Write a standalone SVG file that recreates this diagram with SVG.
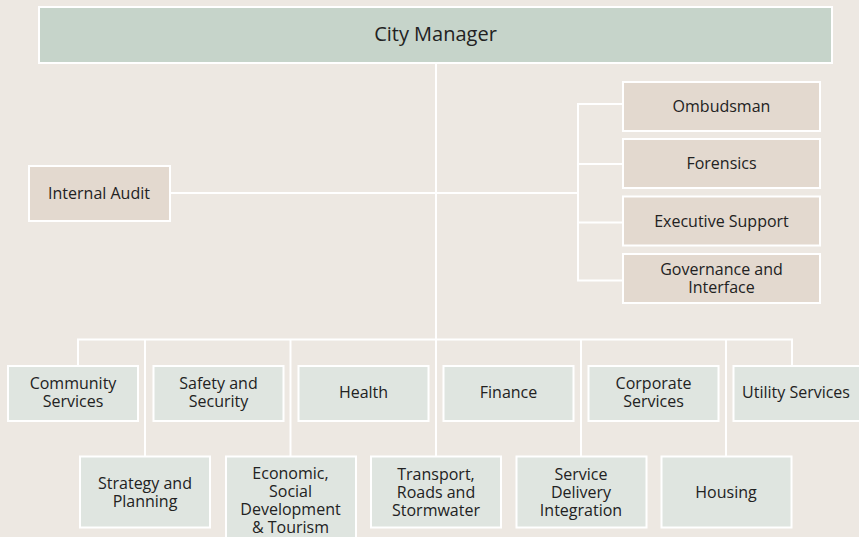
<svg xmlns="http://www.w3.org/2000/svg" width="859" height="537" viewBox="0 0 859 537">
<style>
.box{stroke:#ffffff;stroke-width:2}
.top{fill:#c6d4ca}
.tan{fill:#e3d9cf}
.grn{fill:#dfe5e0}
.ln{stroke:#ffffff;stroke-width:2;fill:none}
text{font-family:"Open Sans","Noto Sans","DejaVu Sans",sans-serif;font-size:16px;fill:#222222;text-anchor:middle}
.big{font-size:20px}
</style>
<rect x="0" y="0" width="859" height="537" fill="#ede8e2"/>
<g id="connectors">
<line class="ln" x1="436" y1="63" x2="436" y2="456"/>
<line class="ln" x1="170" y1="193" x2="578" y2="193"/>
<line class="ln" x1="578" y1="103" x2="578" y2="281"/>
<line class="ln" x1="577" y1="104" x2="622" y2="104"/>
<line class="ln" x1="578" y1="164" x2="622" y2="164"/>
<line class="ln" x1="578" y1="222.5" x2="622" y2="222.5"/>
<line class="ln" x1="577" y1="280.5" x2="622" y2="280.5"/>
<line class="ln" x1="77" y1="339.5" x2="793" y2="339.5"/>
<line class="ln" x1="78" y1="339.5" x2="78" y2="365"/>
<line class="ln" x1="792" y1="339.5" x2="792" y2="365"/>
<line class="ln" x1="145" y1="339.5" x2="145" y2="456"/>
<line class="ln" x1="290.5" y1="339.5" x2="290.5" y2="456"/>
<line class="ln" x1="581" y1="339.5" x2="581" y2="456"/>
<line class="ln" x1="726" y1="339.5" x2="726" y2="456"/>
</g>
<g id="city-manager"><rect class="box top" x="39" y="7" width="793" height="56"/><text class="big" x="435.5" y="41">City Manager</text></g>
<g id="internal-audit"><rect class="box tan" x="29" y="166" width="141" height="55"/><text x="99" y="199">Internal Audit</text></g>
<g id="ombudsman"><rect class="box tan" x="623" y="82" width="197" height="49"/><text x="721.5" y="112">Ombudsman</text></g>
<g id="forensics"><rect class="box tan" x="623" y="139" width="197" height="49"/><text x="721.5" y="169">Forensics</text></g>
<g id="executive-support"><rect class="box tan" x="623" y="196.5" width="197" height="49"/><text x="721.5" y="227">Executive Support</text></g>
<g id="governance"><rect class="box tan" x="623" y="254" width="197" height="49"/><text x="721.5" y="275">Governance and</text><text x="721.5" y="293">Interface</text></g>
<g id="community-services"><rect class="box grn" x="8" y="366" width="130" height="55"/><text x="73" y="389">Community</text><text x="73" y="407">Services</text></g>
<g id="safety-security"><rect class="box grn" x="153.5" y="366" width="130" height="55"/><text x="218.5" y="389">Safety and</text><text x="218.5" y="407">Security</text></g>
<g id="health"><rect class="box grn" x="298.5" y="366" width="130" height="55"/><text x="363.5" y="398">Health</text></g>
<g id="finance"><rect class="box grn" x="443.5" y="366" width="130" height="55"/><text x="508.5" y="398">Finance</text></g>
<g id="corporate-services"><rect class="box grn" x="588.5" y="366" width="130" height="55"/><text x="653.5" y="389">Corporate</text><text x="653.5" y="407">Services</text></g>
<g id="utility-services"><rect class="box grn" x="733.5" y="366" width="130" height="55"/><text x="796" y="398">Utility Services</text></g>
<g id="strategy-planning"><rect class="box grn" x="80" y="456.5" width="130" height="71"/><text x="145" y="489">Strategy and</text><text x="145" y="507">Planning</text></g>
<g id="economic"><rect class="box grn" x="226" y="456.5" width="130" height="100"/><text x="290.5" y="479">Economic,</text><text x="290.5" y="497">Social</text><text x="290.5" y="515">Development</text><text x="290.5" y="533">&amp; Tourism</text></g>
<g id="transport"><rect class="box grn" x="371" y="456.5" width="130" height="71"/><text x="436" y="480">Transport,</text><text x="436" y="498">Roads and</text><text x="436" y="516">Stormwater</text></g>
<g id="service-delivery"><rect class="box grn" x="516.5" y="456.5" width="130" height="71"/><text x="581" y="480">Service</text><text x="581" y="498">Delivery</text><text x="581" y="516">Integration</text></g>
<g id="housing"><rect class="box grn" x="661.5" y="456.5" width="130" height="71"/><text x="726" y="498">Housing</text></g>
</svg>
